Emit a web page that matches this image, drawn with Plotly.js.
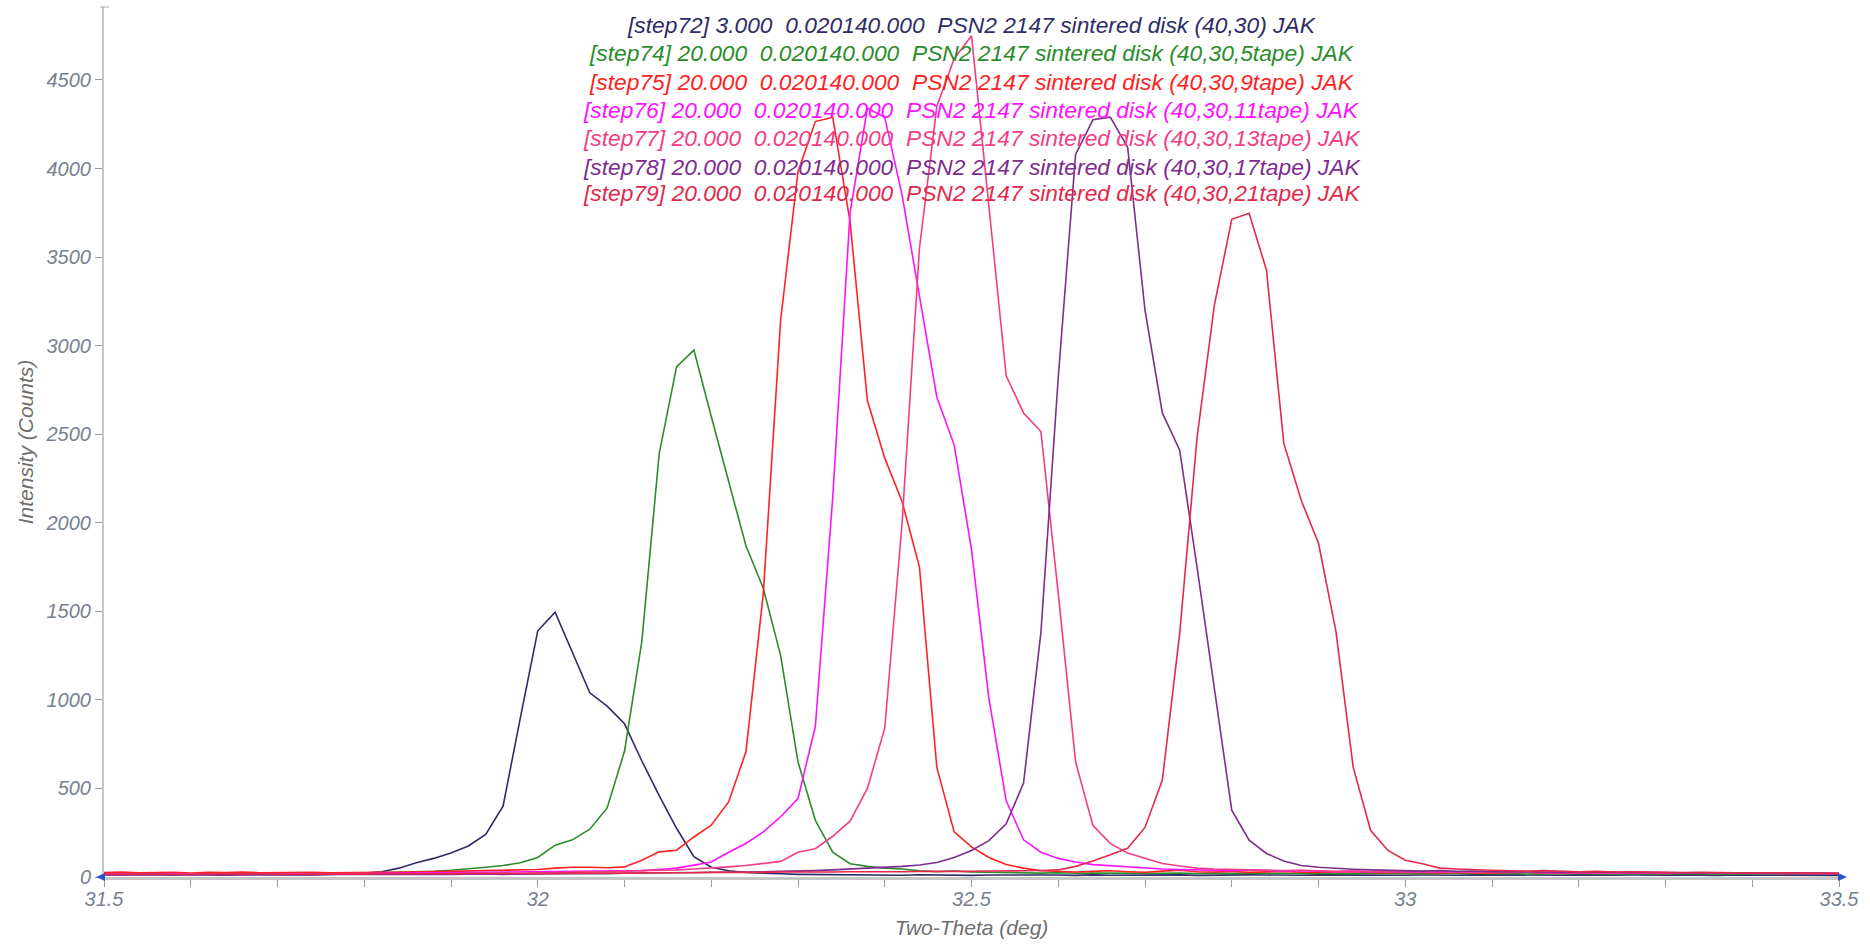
<!DOCTYPE html>
<html>
<head>
<meta charset="utf-8">
<script src="https://cdn.plot.ly/plotly-3.0.1.min.js"></script>
<style>html,body{margin:0;padding:0;background:#fff;}#chart{width:1870px;height:947px;}</style>
</head>
<body>
<div id="chart"></div>
<script>
// Two-theta positions (deg), scan step 0.02
const twoTheta = [
  31.50,31.52,31.54,31.56,31.58,31.60,31.62,31.64,31.66,31.68,
  31.70,31.72,31.74,31.76,31.78,31.80,31.82,31.84,31.86,31.88,
  31.90,31.92,31.94,31.96,31.98,32.00,32.02,32.04,32.06,32.08,
  32.10,32.12,32.14,32.16,32.18,32.20,32.22,32.24,32.26,32.28,
  32.30,32.32,32.34,32.36,32.38,32.40,32.42,32.44,32.46,32.48,
  32.50,32.52,32.54,32.56,32.58,32.60,32.62,32.64,32.66,32.68,
  32.70,32.72,32.74,32.76,32.78,32.80,32.82,32.84,32.86,32.88,
  32.90,32.92,32.94,32.96,32.98,33.00,33.02,33.04,33.06,33.08,
  33.10,33.12,33.14,33.16,33.18,33.20,33.22,33.24,33.26,33.28,
  33.30,33.32,33.34,33.36,33.38,33.40,33.42,33.44,33.46,33.48,
  33.50
];

const step72 = [
  14,12,15,13,11,14,12,10,13,12,
  11,14,12,15,18,22,30,50,80,105,
  135,175,240,400,900,1390,1495,1270,1040,965,
  865,655,460,275,115,55,35,25,20,18,
  15,14,12,13,11,12,10,13,11,12,
  9,11,12,10,13,11,9,12,10,11,
  13,10,12,9,11,10,12,11,9,10,
  12,11,10,9,12,10,11,9,10,12,
  11,10,9,11,10,12,9,10,11,9,
  10,12,10,9,11,10,9,10,11,10,
  9
];
const step74 = [
  18,20,17,19,21,18,20,19,17,20,
  22,19,21,20,22,22,24,26,28,32,
  38,45,55,65,80,110,180,210,270,390,
  710,1330,2390,2880,2975,2600,2230,1870,1630,1250,
  650,320,140,75,60,50,45,35,30,34,
  28,26,24,25,22,24,21,23,22,20,
  22,21,23,20,22,19,21,20,22,19,
  21,20,18,21,19,20,18,19,21,18,
  20,19,17,19,18,20,17,19,18,16,
  19,17,18,16,18,17,19,16,18,17,
  16
];
const step75 = [
  25,28,24,27,26,23,27,25,28,24,
  26,25,27,24,26,25,27,26,28,30,
  32,30,33,35,38,42,50,55,55,52,
  57,95,142,151,226,292,424,707,1600,3145,
  3982,4265,4290,3700,2690,2365,2120,1750,620,255,
  170,110,70,50,35,30,28,32,35,30,
  27,33,38,30,28,31,26,29,32,27,
  25,28,30,26,24,27,25,23,26,24,
  22,25,27,23,22,24,21,23,25,22,
  20,23,21,24,22,20,21,23,20,22,
  21
];
const step76 = [
  16,18,15,17,19,16,18,17,15,18,
  16,19,17,18,20,18,20,19,21,22,
  24,23,25,27,26,28,30,29,32,34,
  33,36,42,50,67,85,140,189,255,340,
  443,850,2140,3750,4340,4290,3850,3270,2710,2440,
  1850,1010,430,210,140,105,85,70,63,55,
  48,45,42,40,38,36,40,35,33,36,
  32,30,33,29,31,28,30,27,29,26,
  28,25,27,24,26,25,23,25,22,24,
  23,21,23,22,20,22,21,19,21,20,
  19
];
const step77 = [
  14,16,15,13,17,15,14,16,15,17,
  14,16,15,17,16,16,18,17,19,18,
  20,19,21,22,20,23,25,24,27,29,
  31,33,36,40,45,50,57,65,75,88,
  140,160,230,315,500,840,2000,3550,4350,4620,
  4750,3800,2830,2620,2515,1600,650,290,190,135,
  105,76,62,50,45,42,40,38,36,38,
  34,32,35,30,31,29,32,28,30,27,
  29,26,28,25,27,24,26,25,23,25,
  22,24,23,21,23,22,20,22,21,20,
  19
];
const step78 = [
  12,14,13,15,12,14,13,12,15,13,
  14,12,13,15,14,14,15,13,16,15,
  14,16,17,15,18,17,19,18,20,19,
  21,22,20,23,25,24,26,28,30,32,
  33,36,40,45,48,52,60,68,82,110,
  150,205,300,530,1380,2820,4080,4275,4290,4120,
  3200,2620,2410,1750,1060,377,208,133,90,65,
  55,48,44,40,38,35,33,36,32,34,
  30,31,29,30,27,28,26,27,25,26,
  24,25,23,24,22,23,21,22,21,20,
  19
];
const step79 = [
  16,14,17,15,16,14,18,15,16,17,
  15,16,14,17,15,16,18,17,19,17,
  18,20,19,18,20,21,19,22,21,23,
  22,24,23,25,24,26,25,27,26,28,
  27,29,28,30,29,31,30,32,31,33,
  32,34,33,35,37,40,60,90,125,162,
  280,547,1375,2480,3230,3713,3747,3427,2448,2128,
  1884,1390,620,264,150,95,75,50,45,40,
  38,35,33,36,31,30,32,28,29,27,
  28,25,26,24,25,23,24,22,23,21,
  20
];

const seriesNames = [
  "[step72] 3.000\u00a0\u00a00.020140.000\u00a0\u00a0PSN2 2147 sintered disk (40,30) JAK",
  "[step74] 20.000\u00a0\u00a00.020140.000\u00a0\u00a0PSN2 2147 sintered disk (40,30,5tape) JAK",
  "[step75] 20.000\u00a0\u00a00.020140.000\u00a0\u00a0PSN2 2147 sintered disk (40,30,9tape) JAK",
  "[step76] 20.000\u00a0\u00a00.020140.000\u00a0\u00a0PSN2 2147 sintered disk (40,30,11tape) JAK",
  "[step77] 20.000\u00a0\u00a00.020140.000\u00a0\u00a0PSN2 2147 sintered disk (40,30,13tape) JAK",
  "[step78] 20.000\u00a0\u00a00.020140.000\u00a0\u00a0PSN2 2147 sintered disk (40,30,17tape) JAK",
  "[step79] 20.000\u00a0\u00a00.020140.000\u00a0\u00a0PSN2 2147 sintered disk (40,30,21tape) JAK"
];
const seriesValues = [step72, step74, step75, step76, step77, step78, step79];
const seriesColors = ['#2e2c66','#2a8c2a','#ff2222','#ff10ff','#f23d86','#7e2c8e','#e2294c'];

const FONT = '"Liberation Sans", Arial, sans-serif';
const traces = seriesValues.map((ys, k) => ({
  type: 'scatter', mode: 'lines', x: twoTheta, y: ys,
  name: seriesNames[k], line: {color: seriesColors[k], width: 1.6},
  hoverinfo: 'skip'
}));

const lineTop = [18, 46.3, 74.7, 103, 131.3, 159.7, 186.3];
const annotations = seriesNames.map((t, k) => ({
  xref: 'paper', yref: 'paper', x: 0.5, y: 1, xanchor: 'center', yanchor: 'middle',
  yshift: -lineTop[k], showarrow: false, text: t,
  font: {family: FONT, size: 22.8, color: seriesColors[k], style: 'italic'}
}));

const tickFont = {family: FONT, size: 20, color: '#77808e', style: 'italic'};
const titleFont = {family: FONT, size: 21, color: '#6e6e6e', style: 'italic'};

const layout = {
  width: 1870, height: 947,
  margin: {l: 104, r: 31, t: 7, b: 70},
  paper_bgcolor: '#ffffff', plot_bgcolor: '#ffffff',
  showlegend: false, hovermode: false,
  xaxis: {
    range: [31.5, 33.5], tick0: 31.5, dtick: 0.5,
    ticks: 'outside', ticklen: 7, tickwidth: 1, tickcolor: '#9a9a9a',
    ticklabelstandoff: -5,
    minor: {dtick: 0.1, ticks: 'outside', ticklen: 7, tickwidth: 1, tickcolor: '#9a9a9a', showgrid: false},
    showline: true, linecolor: '#c6c6c6', linewidth: 3,
    showgrid: false, zeroline: false,
    tickfont: tickFont,
    title: {text: 'Two-Theta (deg)', font: titleFont, standoff: 12}
  },
  yaxis: {
    range: [0, 4912], tick0: 0, dtick: 500,
    ticks: 'outside', ticklen: 7, tickwidth: 1, tickcolor: '#9a9a9a',
    showline: true, linecolor: '#c6c6c6', linewidth: 2,
    showgrid: false, zeroline: false,
    tickfont: tickFont,
    title: {text: 'Intensity (Counts)', font: titleFont, standoff: 6}
  },
  annotations: annotations,
  shapes: [
    {type: 'path', xref: 'paper', yref: 'paper', xsizemode: 'pixel', ysizemode: 'pixel',
     xanchor: 0, yanchor: 0, path: 'M1,-4 L-8,0 L1,4 Z', fillcolor: '#2456c8', line: {width: 0}},
    {type: 'path', xref: 'paper', yref: 'paper', xsizemode: 'pixel', ysizemode: 'pixel',
     xanchor: 1, yanchor: 0, path: 'M-1,-4 L8,0 L-1,4 Z', fillcolor: '#2456c8', line: {width: 0}},
    {type: 'line', xref: 'paper', yref: 'paper', xsizemode: 'pixel', xanchor: 0,
     x0: -4, x1: 5, y0: 1, y1: 1, line: {color: '#a8a8a8', width: 1}}
  ]
};

Plotly.newPlot('chart', traces, layout, {displayModeBar: false, staticPlot: true});
</script>
</body>
</html>
